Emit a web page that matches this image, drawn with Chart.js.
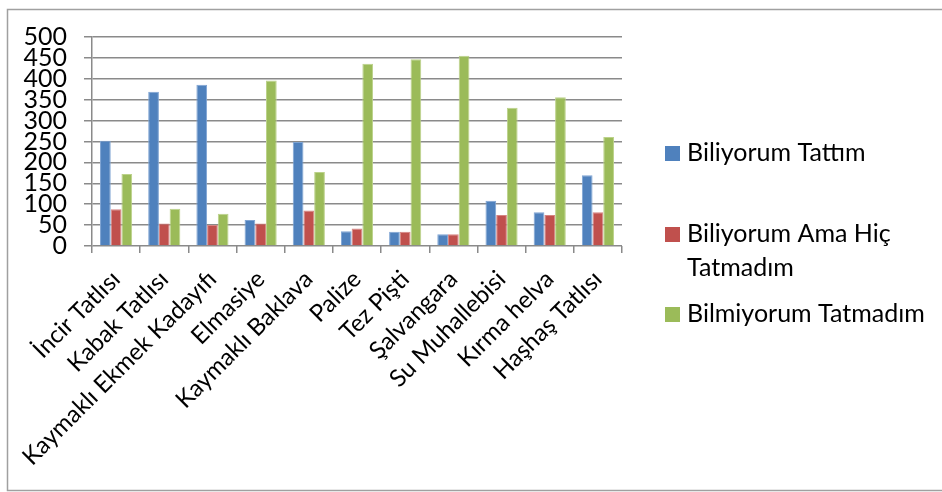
<!DOCTYPE html>
<html>
<head>
<meta charset="utf-8">
<script src="https://cdn.jsdelivr.net/npm/chart.js@4/dist/chart.umd.min.js"></script>
<style>
  html, body { margin: 0; padding: 0; background: #fff; }
  #wrap { position: relative; width: 942px; height: 492px; }
</style>
</head>
<body>
<div id="wrap"><canvas id="chart" width="942" height="492"></canvas></div>
<script>
const tatlilar = ["İncir Tatlısı", "Kabak Tatlısı", "Kaymaklı Ekmek Kadayıfı", "Elmasiye", "Kaymaklı Baklava",
    "Palize", "Tez Pişti", "Şalvangara", "Su Muhallebisi", "Kırma helva", "Haşhaş Tatlısı"];
const seriesNames = ["Biliyorum Tattım", "Biliyorum Ama Hiç Tatmadım", "Bilmiyorum Tatmadım"];
const biliyorumTattim = [252, 369, 386, 62, 249, 35, 34, 28, 108, 81, 169];
const biliyorumTatmadim = [88, 54, 50, 54, 85, 42, 34, 28, 74, 74, 81];
const bilmiyorumTatmadim = [172, 89, 77, 396, 177, 436, 447, 455, 331, 356, 261];
const yTicks = [0, 50, 100, 150, 200, 250, 300, 350, 400, 450, 500];

const colors = ["#4f81bd", "#c0504d", "#9bbb59"];
const edges = ["#7fa4d3", "#d68482", "#bcd28a"];
const FONT = "Lato, 'Open Sans', sans-serif";

// frame around the whole chart (right edge runs past the canvas)
const frame = {
    id: "frame",
    beforeDraw(chart) {
        const ctx = chart.ctx;
        ctx.save();
        ctx.strokeStyle = "#a0a0a0";
        ctx.lineWidth = 1.5;
        ctx.strokeRect(7.5, 9.5, 1000, 481);
        ctx.restore();
    }
};

// legend on the right, drawn by hand so rows can sit where Excel put them
const sideLegend = {
    id: "sideLegend",
    afterDraw(chart) {
        const ctx = chart.ctx;
        const rowsY = [153, 234, 314];
        const boxX = 665, textX = 687, maxW = 245, lineH = 34;
        ctx.save();
        ctx.font = "25px " + FONT;
        ctx.textBaseline = "middle";
        chart.data.datasets.forEach((ds, i) => {
            ctx.fillStyle = ds.backgroundColor;
            ctx.fillRect(boxX, rowsY[i] - 7, 15, 15);
            ctx.fillStyle = "#000";
            const words = ds.label.split(" ");
            const lines = [];
            let line = "";
            words.forEach(w => {
                const test = line ? line + " " + w : w;
                if (line && ctx.measureText(test).width > maxW) {
                    lines.push(line);
                    line = w;
                } else {
                    line = test;
                }
            });
            lines.push(line);
            lines.forEach((l, k) => ctx.fillText(l, textX, rowsY[i] + k * lineH));
        });
        ctx.restore();
    }
};

const ctx = document.getElementById("chart").getContext("2d");
new Chart(ctx, {
    type: "bar",
    data: {
        labels: tatlilar,
        datasets: [biliyorumTattim, biliyorumTatmadim, bilmiyorumTatmadim].map((vals, i) => ({
            label: seriesNames[i],
            data: vals,
            backgroundColor: colors[i],
            borderColor: edges[i],
            borderWidth: 1,
            barPercentage: 1,
            categoryPercentage: 0.667
        }))
    },
    options: {
        responsive: false,
        animation: false,
        layout: { padding: { left: 0, top: 37, right: 320, bottom: 0 } },
        plugins: {
            legend: { display: false },
            tooltip: { enabled: false }
        },
        scales: {
            x: {
                grid: {
                    drawOnChartArea: false,
                    drawTicks: true,
                    tickLength: 7,
                    color: "#8a8a8a",
                    lineWidth: 1.5
                },
                border: { display: false },
                ticks: {
                    color: "#000",
                    font: { family: FONT, size: 24 },
                    minRotation: 45,
                    maxRotation: 45,
                    autoSkip: false,
                    padding: 12
                },
                afterFit(axis) { axis.height = 246; }
            },
            y: {
                min: 0,
                max: 500,
                afterBuildTicks(axis) { axis.ticks = yTicks.map(v => ({ value: v })); },
                grid: {
                    color: "#8a8a8a",
                    lineWidth: 1.5,
                    tickLength: 8
                },
                border: { color: "#8a8a8a", width: 1.5 },
                ticks: {
                    color: "#000",
                    font: { family: FONT, size: 25 },
                    autoSkip: false,
                    padding: 17
                },
                afterFit(axis) { axis.width = 92; }
            }
        }
    },
    plugins: [frame, sideLegend]
});
</script>
</body>
</html>
